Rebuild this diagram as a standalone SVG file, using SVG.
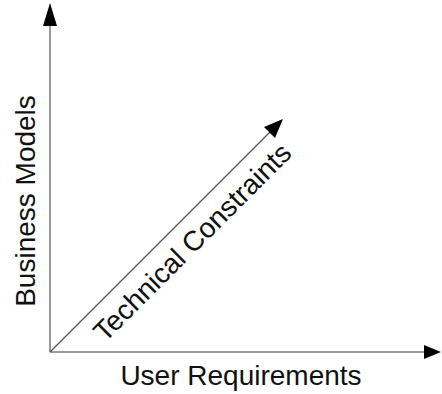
<svg xmlns="http://www.w3.org/2000/svg" width="442" height="394" viewBox="0 0 442 394">
<style>
.axis{stroke:#9a9a9a;stroke-width:2;fill:none}
.diag{stroke:#555;stroke-width:1.2;fill:none}
.lbl{font-family:"Liberation Sans",Arial,sans-serif;font-size:28px;fill:#111}
</style>
<rect width="442" height="394" fill="#fff"/>
<g id="connectors">
<path class="axis" d="M50,352 V26"/>
<polygon points="50,3 43,26 57,26" fill="#000"/>
<path class="axis" d="M50,352 H424"/>
<polygon points="441,352 424,345 424,359" fill="#000"/>
<path class="diag" d="M50,352 L270,132"/>
<polygon points="283,119 264,127 275,138" fill="#000"/>
</g>
<g id="business-models"><text class="lbl" transform="translate(35,201) rotate(-90)" text-anchor="middle">Business Models</text></g>
<g id="user-requirements"><text class="lbl" x="241" y="385" text-anchor="middle">User Requirements</text></g>
<g id="technical-constraints"><text class="lbl" transform="translate(199,249) rotate(-45)" text-anchor="middle">Technical Constraints</text></g>
</svg>
